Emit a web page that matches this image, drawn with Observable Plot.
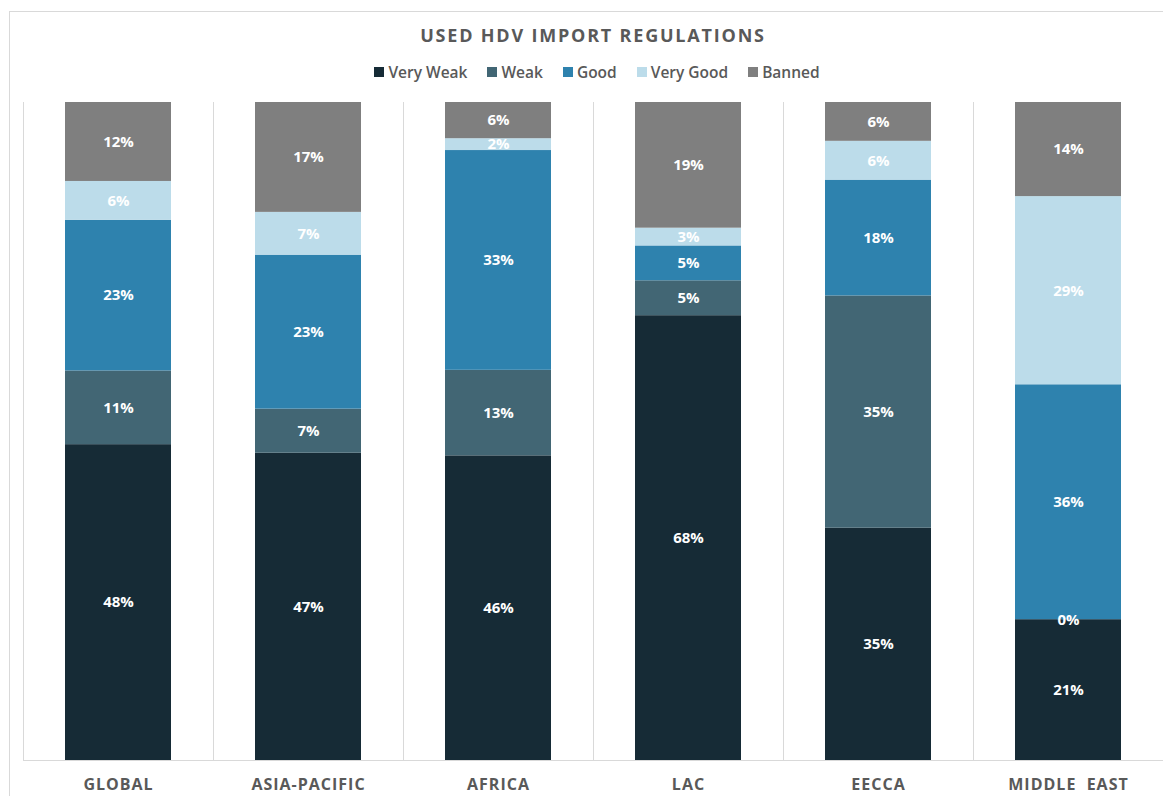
<!DOCTYPE html>
<html>
<head>
<meta charset="utf-8">
<script src="https://cdn.jsdelivr.net/npm/d3@7"></script>
<script src="https://cdn.jsdelivr.net/npm/@observablehq/plot@0.6"></script>
<style>
  html, body { margin: 0; padding: 0; background: #fff; overflow: hidden; }
  #wrap { position: relative; width: 1163px; height: 796px; font-family: "Open Sans", sans-serif; }
  #frame { position: absolute; left: 9px; top: 11px; width: 1200px; height: 900px; border-left: 1px solid #d9d9d9; border-top: 1px solid #d9d9d9; }
  #title { position: absolute; top: 23px; left: 0; width: 1186px; text-align: center; font-size: 18px; font-weight: 700; letter-spacing: 1.8px; color: #595959; }
  #legend { position: absolute; top: 61px; left: 0; width: 1194px; display: flex; justify-content: center; gap: 20px; font-size: 15.5px; font-weight: 600; color: #595959; }
  #legend span.item { display: flex; align-items: center; }
  #legend span.sw { display: inline-block; width: 10px; height: 10px; margin-right: 4px; }
  #chart { position: absolute; top: 90px; left: 0; }
  .xlab text { letter-spacing: 1px; }
</style>
</head>
<body>
<div id="wrap">
  <div id="frame"></div>
  <div id="title">USED HDV IMPORT REGULATIONS</div>
  <div id="legend"></div>
  <div id="chart"></div>
</div>
<script>
const categories = ["GLOBAL", "ASIA-PACIFIC", "AFRICA", "LAC", "EECCA", "MIDDLE\u00a0\u00a0EAST"];
const seriesNames = ["Very Weak", "Weak", "Good", "Very Good", "Banned"];
const seriesColors = ["#162b36", "#426674", "#2e82ae", "#bcdcea", "#7f7f7f"];

const veryWeak = [48.0, 46.7, 46.3, 67.6, 35.3, 21.4];
const weak     = [11.2,  6.7, 13.0,  5.3, 35.3,  0.0];
const good     = [22.9, 23.4, 33.4,  5.3, 17.6, 35.7];
const veryGood = [ 5.9,  6.5,  1.8,  2.7,  5.9, 28.6];
const banned   = [12.0, 16.7,  5.5, 19.1,  5.9, 14.3];

const seriesValues = [veryWeak, weak, good, veryGood, banned];

const rows = [];
seriesNames.forEach((s, si) => {
  categories.forEach((c, ci) => {
    rows.push({category: c, series: s, value: seriesValues[si][ci]});
  });
});

// legend
const legend = document.getElementById("legend");
seriesNames.forEach((s, i) => {
  const item = document.createElement("span");
  item.className = "item";
  const sw = document.createElement("span");
  sw.className = "sw";
  sw.style.background = seriesColors[i];
  item.appendChild(sw);
  item.appendChild(document.createTextNode(s));
  legend.appendChild(item);
});

const step = 190;
const chart = Plot.plot({
  width: 1163,
  height: 706,
  marginLeft: 23,
  marginRight: 0,
  marginTop: 12,
  marginBottom: 36,
  style: {fontFamily: "Open Sans, sans-serif", background: "transparent"},
  x: {domain: categories, paddingInner: 0.44, paddingOuter: 0.22, label: null, axis: null},
  y: {domain: [0, 100], axis: null},
  color: {domain: seriesNames, range: seriesColors},
  marks: [
    Plot.ruleX(categories, {x: d => d, dx: -step / 2, y1: 0, y2: 100, stroke: "#d9d9d9", strokeWidth: 1}),
    Plot.ruleY([0], {stroke: "#d9d9d9", strokeWidth: 1}),
    Plot.barY(rows, Plot.stackY({x: "category", y: "value", fill: "series", order: null})),
    Plot.text(rows, Plot.stackY({
      x: "category", y: "value", order: null,
      text: d => Math.round(d.value) + "%",
      fill: "white", fontWeight: "bold", fontSize: 15
    })),
    Plot.text(categories, {x: d => d, y: 0, dy: 24, text: d => d, fontSize: 16, fontWeight: "bold",
      fill: "#595959", className: "xlab"})
  ]
});
document.getElementById("chart").appendChild(chart);
</script>
</body>
</html>
